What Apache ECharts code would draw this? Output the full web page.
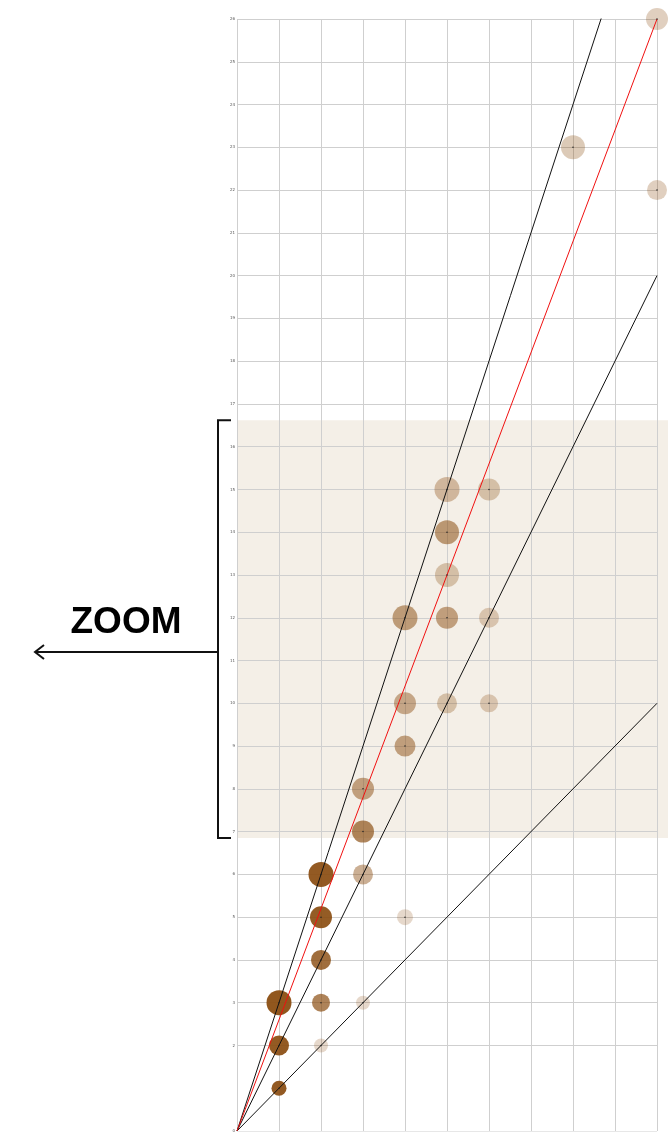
<!DOCTYPE html>
<html>
<head>
<meta charset="utf-8">
<script src="https://cdn.jsdelivr.net/npm/echarts@6/dist/echarts.min.js"></script>
<style>
html,body{margin:0;padding:0;background:#fff;}
#c{width:668px;height:1133px;}
</style>
</head>
<body>
<div id="c"></div>
<script>
// ---- data ----
const xTicks = [0,1,2,3,4,5,6,7,8,9,10];
const yTicks = [0,2,3,4,5,6,7,8,9,10,11,12,13,14,15,16,17,18,19,20,21,22,23,24,25,26];
const bubbleX = [1,1,1,2,2,2,2,2,3,3,3,3,4,4,4,4,5,5,5,5,5,6,6,6,8,10,10];
const bubbleY = [1,2,3,2,3,4,5,6,3,6,7,8,5,9,10,12,10,12,13,14,15,10,12,15,23,22,26];
const bubbleWeight = [7.5,10,12.5,7,9,10,11,12.5,7,10,11,11,8,10.5,11,12.5,10,11,12,12,12.5,9,10,11,12,10,11];
const bubbleShare = [0.93,0.93,0.95,0.22,0.7,0.82,0.92,0.93,0.22,0.45,0.68,0.5,0.22,0.5,0.45,0.52,0.3,0.5,0.3,0.55,0.35,0.27,0.27,0.3,0.3,0.27,0.27];
const blackSlopes = [3, 2, 1];
const redSlope = 2.6;
const zoomRange = [6.85, 16.62];
const zoomLabel = 'ZOOM';

// ---- chart ----
const chart = echarts.init(document.getElementById('c'), null, {renderer:'canvas'});
const bubbles = bubbleX.map((x,i)=>({
  value:[x, bubbleY[i], bubbleWeight[i]],
  itemStyle:{color:'rgba(139,78,18,'+bubbleShare[i]+')', opacity:1}
}));
const gridColor = '#cfcfcf';
const gridSegs = yTicks.map(v=>({coords:[[0,v],[10,v]]}))
  .concat(xTicks.map(v=>({coords:[[v,0],[v,26]]})));
const lineSeries = [];
blackSlopes.forEach(s=>{
  lineSeries.push({type:'line', data:[[0,0],[10,10*s]], symbol:'none', clip:true, silent:true, z:5,
    lineStyle:{color:'#111', width:1}});
});
lineSeries.push({type:'line', data:[[0,0],[10,10*redSlope]], symbol:'none', clip:true, silent:true, z:5,
  lineStyle:{color:'#f01010', width:1}});

chart.setOption({
  animation:false,
  grid:{left:237, right:11, top:19, bottom:2, containLabel:false},
  xAxis:{type:'value', min:0, max:10, interval:1,
    axisLine:{show:false}, axisTick:{show:false}, axisLabel:{show:false}, splitLine:{show:false}},
  yAxis:{type:'value', min:0, max:26, interval:1,
    axisLine:{show:false}, axisTick:{show:false}, splitLine:{show:false},
    axisLabel:{fontSize:4, color:'#555', margin:2, fontFamily:'DejaVu Sans',
      formatter:v=> yTicks.indexOf(v) >= 0 ? String(v) : ''}},
  series:[
    {type:'lines', coordinateSystem:'cartesian2d', data:gridSegs, silent:true, z:1,
      lineStyle:{color:gridColor, width:1, opacity:1}},
    {type:'scatter', data:bubbles, z:3, silent:true, itemStyle:{opacity:1},
      symbolSize: v=> v[2]*2},
    ...lineSeries,
    {type:'scatter', data:bubbleX.map((x,i)=>[x,bubbleY[i]]), symbolSize:1.5, z:6, silent:true,
      itemStyle:{color:'#222', opacity:1}}
  ]
});

// band and annotation from the axis scale
const pTop = chart.convertToPixel({gridIndex:0}, [0, zoomRange[1]]);
const pBot = chart.convertToPixel({gridIndex:0}, [0, zoomRange[0]]);
const W = chart.getWidth();
const bx = 218, arrowY = 652;
chart.setOption({
  graphic:[
    {type:'rect', z:-10, silent:true, shape:{x:pTop[0], y:pTop[1], width:W-pTop[0], height:pBot[1]-pTop[1]},
      style:{fill:'#f4efe7'}},
    {type:'polyline', z:10, silent:true, shape:{points:[[bx+13,pTop[1]],[bx,pTop[1]],[bx,pBot[1]],[bx+13,pBot[1]]]},
      style:{stroke:'#111', lineWidth:2, fill:null}},
    {type:'line', z:10, silent:true, shape:{x1:35, y1:arrowY, x2:bx, y2:arrowY}, style:{stroke:'#111', lineWidth:2}},
    {type:'polyline', z:10, silent:true, shape:{points:[[44,arrowY-7],[35,arrowY],[44,arrowY+7]]},
      style:{stroke:'#111', lineWidth:2, fill:null}},
    {type:'text', z:10, silent:true, x:126, y:641,
      style:{text:zoomLabel, fontSize:37, fontWeight:'bold', fontFamily:'Liberation Sans',
        fill:'#000', align:'center', verticalAlign:'bottom'}}
  ]
});
</script>
</body>
</html>
